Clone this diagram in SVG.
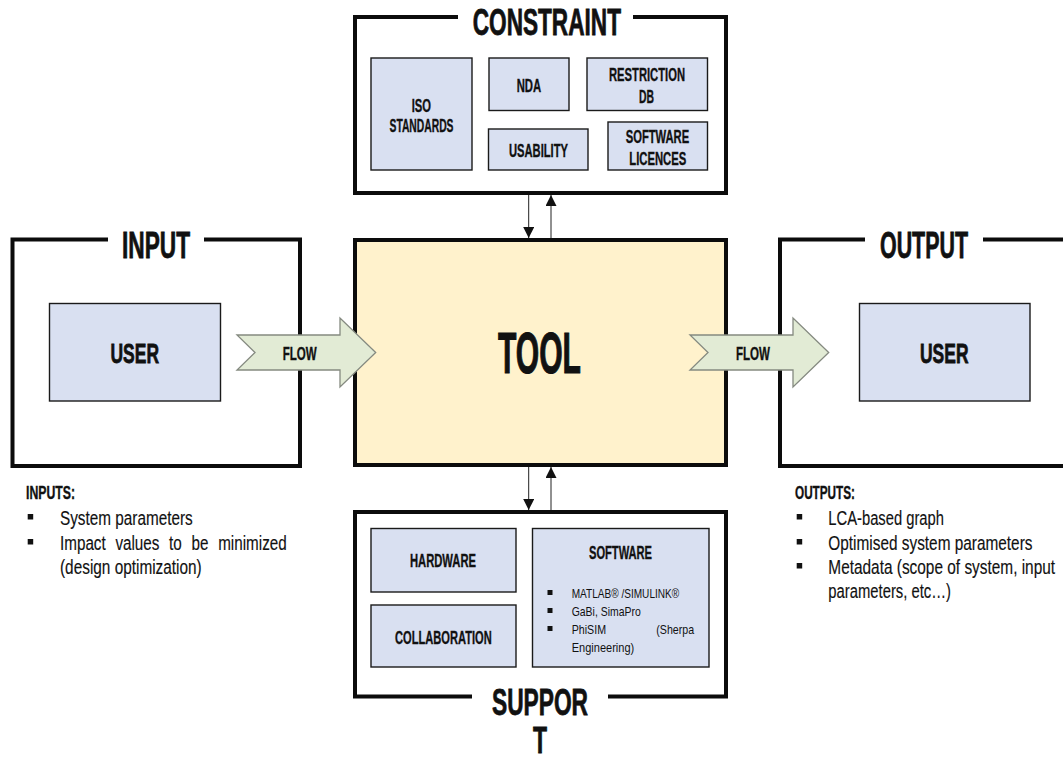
<svg xmlns="http://www.w3.org/2000/svg" width="1063" height="761" viewBox="0 0 1063 761">
<style>
text{font-family:"Liberation Sans Narrow","Liberation Sans",Arial,sans-serif;fill:#111}
.b{font-weight:700;stroke:#111;stroke-width:.35px}
.frame{fill:none;stroke:#0c0c0c;stroke-width:4}
.inner{fill:#d9e0f1;stroke:#1a1a1a;stroke-width:1.4}
.tool{fill:#fff2cc;stroke:#0c0c0c;stroke-width:4}
.flow{fill:#e2ebd5;stroke:#858a80;stroke-width:1.3}
.conn{stroke:#222;stroke-width:1;fill:none}
.bul{fill:#111}
.h{stroke-width:.8px}
.t36{font-size:36px}.t18{font-size:17.500px}.t19{font-size:19.500px;stroke:#111;stroke-width:.15px}.t13{font-size:13.500px}.t28{font-size:28px}
</style>
<defs>
<marker id="ah" markerUnits="userSpaceOnUse" markerWidth="11" markerHeight="11" refX="11" refY="5.5" orient="auto"><path d="M0 0L11 5.5L0 11Z" fill="#111"/></marker>
</defs>
<rect width="1063" height="761" fill="#fff"/>
<g id="constraint">
<path class="frame" d="M458 17H355V193H726V17H633"/>
<text class="b h t36" x="472.700" y="35" textLength="148.300" lengthAdjust="spacingAndGlyphs">CONSTRAINT</text>
</g>
<g id="iso"><rect class="inner" x="371" y="58" width="101" height="112"/>
<text class="b t18" x="411.700" y="111.500" textLength="19.300" lengthAdjust="spacingAndGlyphs">ISO</text>
<text class="b t18" x="389.500" y="132" textLength="64" lengthAdjust="spacingAndGlyphs">STANDARDS</text></g>
<g id="nda"><rect class="inner" x="489" y="58" width="80" height="52.500"/>
<text class="b t18" x="516.700" y="91.500" textLength="24.500" lengthAdjust="spacingAndGlyphs">NDA</text></g>
<g id="restriction"><rect class="inner" x="587" y="58" width="120.500" height="52.500"/>
<text class="b t18" x="609" y="80.500" textLength="76" lengthAdjust="spacingAndGlyphs">RESTRICTION</text>
<text class="b t18" x="639" y="103" textLength="15" lengthAdjust="spacingAndGlyphs">DB</text></g>
<g id="usability"><rect class="inner" x="488.500" y="129" width="99.500" height="41"/>
<text class="b t18" x="509" y="157" textLength="59" lengthAdjust="spacingAndGlyphs">USABILITY</text></g>
<g id="licences"><rect class="inner" x="608" y="122" width="99.500" height="48"/>
<text class="b t18" x="625.700" y="142.700" textLength="63.500" lengthAdjust="spacingAndGlyphs">SOFTWARE</text>
<text class="b t18" x="629.300" y="165" textLength="57" lengthAdjust="spacingAndGlyphs">LICENCES</text></g>

<g id="input">
<path class="frame" d="M108 239.500H12.500V466H300V239.500H204"/>
<text class="b h t36" x="122" y="258" textLength="68" lengthAdjust="spacingAndGlyphs">INPUT</text>
</g>
<g id="input-user"><rect class="inner" x="49.500" y="303.500" width="171" height="97.500"/>
<text class="b h t28" x="110.500" y="363" textLength="48.500" lengthAdjust="spacingAndGlyphs">USER</text></g>

<g id="tool"><rect class="tool" x="355" y="240" width="371" height="225"/>
<text class="b h" font-size="58" x="498" y="373" textLength="83" lengthAdjust="spacingAndGlyphs" style="stroke-width:1.2px">TOOL</text></g>

<g id="output">
<path class="frame" d="M865 239.500H780V466H1070V239.500H983"/>
<text class="b h t36" x="880" y="258" textLength="88" lengthAdjust="spacingAndGlyphs">OUTPUT</text>
</g>
<g id="output-user"><rect class="inner" x="859.500" y="303.500" width="170.500" height="97.500"/>
<text class="b h t28" x="920" y="363" textLength="48.500" lengthAdjust="spacingAndGlyphs">USER</text></g>

<g id="support">
<path class="frame" d="M472 696.500H355V512H726V696.500H608"/>
<text class="b h t36" x="492" y="715" textLength="96" lengthAdjust="spacingAndGlyphs">SUPPOR</text>
<text class="b h t36" x="533" y="753" textLength="14" lengthAdjust="spacingAndGlyphs">T</text>
</g>
<g id="hardware"><rect class="inner" x="371" y="528.500" width="145" height="63.500"/>
<text class="b t18" x="410" y="567" textLength="66" lengthAdjust="spacingAndGlyphs">HARDWARE</text></g>
<g id="collaboration"><rect class="inner" x="371" y="605" width="145" height="62"/>
<text class="b t18" x="395" y="644" textLength="96.700" lengthAdjust="spacingAndGlyphs">COLLABORATION</text></g>
<g id="software"><rect class="inner" x="532.500" y="528.500" width="176.500" height="138.500"/>
<text class="b t18" x="589" y="559" textLength="63" lengthAdjust="spacingAndGlyphs">SOFTWARE</text>
<rect class="bul" x="547.500" y="590" width="5" height="5"/>
<rect class="bul" x="547.500" y="608" width="5" height="5"/>
<rect class="bul" x="547.500" y="626" width="5" height="5"/>
<text class="t13" x="571.700" y="597.500" textLength="107.500" lengthAdjust="spacingAndGlyphs">MATLAB® /SIMULINK®</text>
<text class="t13" x="571.700" y="616" textLength="69" lengthAdjust="spacingAndGlyphs">GaBi, SimaPro</text>
<text class="t13" x="571.700" y="634" textLength="122.500" lengthAdjust="spacingAndGlyphs" word-spacing="60">PhiSIM (Sherpa</text>
<text class="t13" x="571.700" y="651.500" textLength="62.500" lengthAdjust="spacingAndGlyphs">Engineering)</text></g>

<g id="inputs-note">
<text class="b t18" x="26" y="499" textLength="49" lengthAdjust="spacingAndGlyphs">INPUTS:</text>
<rect class="bul" x="27.700" y="514" width="5.500" height="5.500"/>
<rect class="bul" x="27.700" y="539" width="5.500" height="5.500"/>
<text class="t19" x="60" y="525" textLength="132.700" lengthAdjust="spacingAndGlyphs">System parameters</text>
<text class="t19" x="60" y="550" textLength="226.700" lengthAdjust="spacingAndGlyphs" word-spacing="7">Impact values to be minimized</text>
<text class="t19" x="60" y="573.500" textLength="141.700" lengthAdjust="spacingAndGlyphs">(design optimization)</text>
</g>
<g id="outputs-note">
<text class="b t18" x="795" y="499" textLength="60" lengthAdjust="spacingAndGlyphs">OUTPUTS:</text>
<rect class="bul" x="796.700" y="514" width="5.500" height="5.500"/>
<rect class="bul" x="796.700" y="539" width="5.500" height="5.500"/>
<rect class="bul" x="796.700" y="563" width="5.500" height="5.500"/>
<text class="t19" x="828.300" y="525" textLength="115.700" lengthAdjust="spacingAndGlyphs">LCA-based graph</text>
<text class="t19" transform="translate(828.300 550) scale(.789 1)">Optimised system parameters</text>
<text class="t19" transform="translate(828.300 574) scale(.79 1)">Metadata (scope of system, input</text>
<text class="t19" x="828.300" y="598" textLength="122.700" lengthAdjust="spacingAndGlyphs">parameters, etc…)</text>
</g>

<g id="connectors">
<line class="conn" x1="528.700" y1="195" x2="528.700" y2="238" marker-end="url(#ah)"/>
<line class="conn" x1="551" y1="238" x2="551" y2="195" marker-end="url(#ah)"/>
<line class="conn" x1="528.700" y1="467" x2="528.700" y2="510" marker-end="url(#ah)"/>
<line class="conn" x1="551" y1="510" x2="551" y2="467" marker-end="url(#ah)"/>
<path class="flow" d="M237 335H340V318L375.700 352.500L340 387V370H237L255 352.500Z"/>
<text class="b t18" x="282.700" y="360" textLength="34" lengthAdjust="spacingAndGlyphs">FLOW</text>
<path class="flow" d="M690 335H793V318L828.700 352.500L793 387V370H690L708 352.500Z"/>
<text class="b t18" x="736" y="360" textLength="34" lengthAdjust="spacingAndGlyphs">FLOW</text>
</g>
</svg>
